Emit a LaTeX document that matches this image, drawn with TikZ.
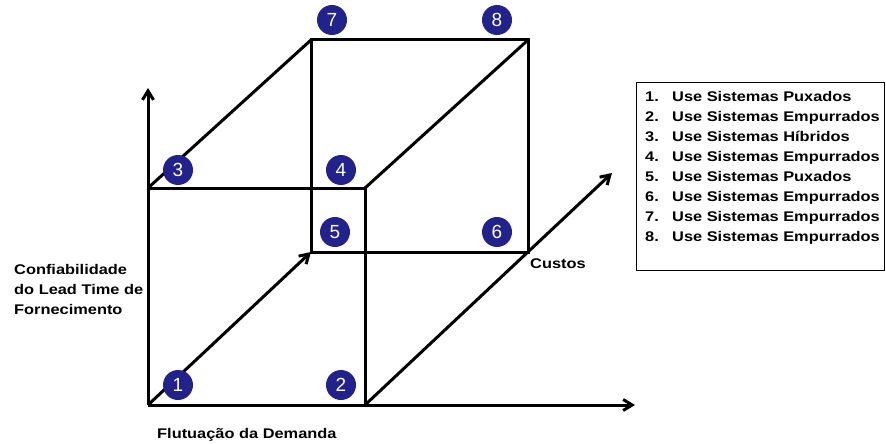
\documentclass[tikz,border=0pt]{standalone}
\usepackage{fontspec}
\setmainfont{Liberation Sans}
\newfontfamily\lblfont[FakeStretch=1.17]{Liberation Sans}
\usepackage{xcolor}
\usetikzlibrary{arrows.meta}
\definecolor{ballblue}{HTML}{22228C}

\begin{document}
\begin{tikzpicture}[
      x=1pt, y=-1pt,
      >={Straight Barb[length=9pt,width=11pt]},
      edge/.style={line width=3pt},
      axis/.style={edge, ->},
      lbl/.style={font=\lblfont\bfseries\fontsize{14}{20}\selectfont, inner sep=0pt, align=left},
      ball/.style={circle, fill=ballblue, text=white, minimum size=30pt, inner sep=0pt,
        font=\fontsize{19}{19}\selectfont}]
    \useasboundingbox (0,0) rectangle (886,444);
    % cube corners
    \coordinate (o) at (148,405);
    \coordinate (fbr) at (365,405);
    \coordinate (ftl) at (148,188);
    \coordinate (ftr) at (365,188);
    \coordinate (bbl) at (311,252);
    \coordinate (bbr) at (528,252);
    \coordinate (btl) at (311,40);
    \coordinate (btr) at (528,40);
    \coordinate (yend) at (148,88);
    \coordinate (xend) at (635,405);
    \coordinate (zend) at (612,173);
    % axes
    \draw[axis] (o) -- (yend);
    \draw[axis] (o) -- (xend);
    \draw[axis] (fbr) -- (zend);
    \draw[axis] (o) -- (bbl);
    % edges
    \draw[edge] (ftl) -- (btl);
    \draw[edge] (ftr) -- (btr);
    \draw[edge] (ftl) -- (ftr) -- (fbr);
    \draw[edge] (btl) -- (btr) -- (bbr) -- (bbl) -- cycle;
    % numbered corners
    \node[ball] (n1) at (178,385) {1};
    \node[ball] (n2) at (341,385) {2};
    \node[ball] (n3) at (178,170) {3};
    \node[ball] (n4) at (341,170) {4};
    \node[ball] (n5) at (335,232) {5};
    \node[ball] (n6) at (497,232) {6};
    \node[ball] (n7) at (332,20) {7};
    \node[ball] (n8) at (497,20) {8};
    % axis labels
    \node[lbl, anchor=north west] (ylbl) at (14,264) {Confiabilidade\\do Lead Time de\\Fornecimento};
    \node[lbl, anchor=base west] (xlbl) at (157,438) {Flutuação da Demanda};
    \node[lbl, anchor=base west] (zlbl) at (530,268) {Custos};
    % legend
    \node[draw, line width=1pt, anchor=north west, minimum width=248pt, minimum height=188pt] (legend) at (636,82) {};
    \node[lbl, anchor=north west] (leglist) at (645,91) {%
      \makebox[27pt][l]{1.}Use Sistemas Puxados\\
      \makebox[27pt][l]{2.}Use Sistemas Empurrados\\
      \makebox[27pt][l]{3.}Use Sistemas Híbridos\\
      \makebox[27pt][l]{4.}Use Sistemas Empurrados\\
      \makebox[27pt][l]{5.}Use Sistemas Puxados\\
      \makebox[27pt][l]{6.}Use Sistemas Empurrados\\
      \makebox[27pt][l]{7.}Use Sistemas Empurrados\\
      \makebox[27pt][l]{8.}Use Sistemas Empurrados};
  \end{tikzpicture}
\end{document}
